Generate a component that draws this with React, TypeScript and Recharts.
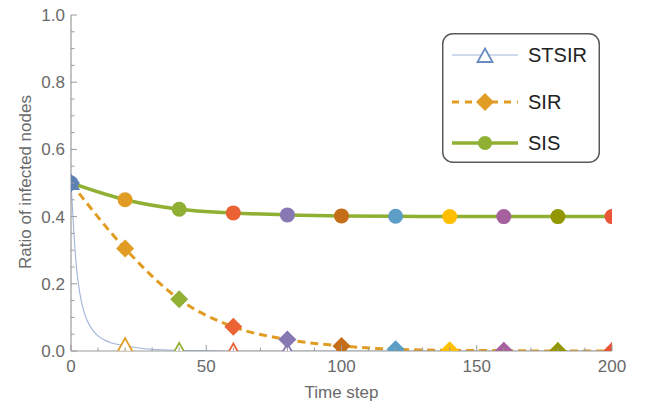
import React from 'react';
import { LineChart, Line, XAxis, YAxis, Legend } from 'recharts';

// Mathematica default indexed palette (marker colours cycle by point index)
const markerPalette = ['#5E81B5', '#E19C24', '#8FB032', '#EB6235', '#8778B3', '#C56E1A', '#5D9EC7', '#FFBF00', '#A5609D', '#929600', '#E95536'];

// Marker time steps
const markerSteps = [0, 20, 40, 60, 80, 100, 120, 140, 160, 180, 200];
// SIR series (dashed, diamonds)
const sirValues = [0.5, 0.305, 0.154, 0.072, 0.034, 0.015, 0.005, 0.002, 0.001, 0.0, 0.0];
// SIS series (solid, circles)
const sisValues = [0.5, 0.45, 0.422, 0.411, 0.405, 0.402, 0.401, 0.4, 0.4, 0.4, 0.4];
// STSIR series (thin curve)
const stsirSteps = [0, 1, 2, 3, 4, 5, 6, 8, 10, 12, 15, 20, 25, 30, 40, 50, 60, 80, 100, 120, 140, 160, 180, 200];
const stsirValues = [0.5, 0.36, 0.25, 0.185, 0.142, 0.112, 0.09, 0.062, 0.045, 0.034, 0.024, 0.016, 0.009, 0.005, 0.002, 0.001, 0, 0, 0, 0, 0, 0, 0, 0];

// Ticks
const xTicks = [0, 10, 20, 30, 40, 50, 60, 70, 80, 90, 100, 110, 120, 130, 140, 150, 160, 170, 180, 190, 200];
const yTicks = [0, 0.05, 0.1, 0.15, 0.2, 0.25, 0.3, 0.35, 0.4, 0.45, 0.5, 0.55, 0.6, 0.65, 0.7, 0.75, 0.8, 0.85, 0.9, 0.95, 1.0];

const seriesNames = ['STSIR', 'SIR', 'SIS'];

const sirData = markerSteps.map((t, i) => ({ t, v: sirValues[i] }));
const sisData = markerSteps.map((t, i) => ({ t, v: sisValues[i] }));
const stsirData = stsirSteps.map((t, i) => ({ t, v: stsirValues[i] }));

const FONT = '"Liberation Sans", Arial, Helvetica, sans-serif';
const TICK_TEXT = '#6a6a6a';
const FRAME_MAIN = '#9a9a9a';
const FRAME_LIGHT = '#b8b8b8';

const isMajorX = (v: number) => v % 50 === 0;
const isMajorY = (v: number) => Math.abs(v * 5 - Math.round(v * 5)) < 1e-6;

const BottomTick = (props: any) => {
  const { x, y, payload } = props;
  const v = payload.value;
  const major = isMajorX(v);
  return (
    <g>
      <line x1={x} x2={x} y1={y} y2={y - (major ? 6 : 3.5)} stroke={FRAME_MAIN} strokeWidth={1} />
      {major && (
        <text x={x} y={y + 21} textAnchor="middle" fill={TICK_TEXT} fontSize={17} fontFamily={FONT}>
          {v}
        </text>
      )}
    </g>
  );
};

const TopTick = (props: any) => {
  const { x, y, payload } = props;
  const major = isMajorX(payload.value);
  return <line x1={x} x2={x} y1={y} y2={y + (major ? 6 : 3.5)} stroke={FRAME_LIGHT} strokeWidth={1} />;
};

const LeftTick = (props: any) => {
  const { x, y, payload } = props;
  const v = payload.value;
  const major = isMajorY(v);
  return (
    <g>
      <line x1={x} x2={x + (major ? 6 : 3.5)} y1={y} y2={y} stroke={FRAME_MAIN} strokeWidth={1} />
      {major && (
        <text x={x - 6} y={y + 6} textAnchor="end" fill={TICK_TEXT} fontSize={17} fontFamily={FONT}>
          {v.toFixed(1)}
        </text>
      )}
    </g>
  );
};

const RightTick = (props: any) => {
  const { x, y, payload } = props;
  const major = isMajorY(payload.value);
  return <line x1={x} x2={x - (major ? 6 : 3.5)} y1={y} y2={y} stroke={FRAME_LIGHT} strokeWidth={1} />;
};

const colorFor = (t: number) => markerPalette[Math.round(t / 20) % markerPalette.length];

const Triangle = ({ cx, cy, color }: { cx: number; cy: number; color: string }) => (
  <polygon
    points={`${cx},${cy - 7.5} ${cx + 7.5},${cy + 6} ${cx - 7.5},${cy + 6}`}
    fill="#ffffff"
    stroke={color}
    strokeWidth={1.8}
    strokeLinejoin="miter"
  />
);

const Diamond = ({ cx, cy, color }: { cx: number; cy: number; color: string }) => (
  <polygon points={`${cx},${cy - 9} ${cx + 9},${cy} ${cx},${cy + 9} ${cx - 9},${cy}`} fill={color} stroke="none" />
);

const stsirDot = (props: any) => {
  const { cx, cy, payload, key } = props;
  if (payload.t % 20 !== 0 || cx == null || cy == null) return <g key={key ?? `s-${payload.t}`} />;
  return (
    <g key={key ?? `s-${payload.t}`}>
      <Triangle cx={cx} cy={cy} color={colorFor(payload.t)} />
    </g>
  );
};

const sirDot = (props: any) => {
  const { cx, cy, payload, key } = props;
  return (
    <g key={key ?? `d-${payload.t}`}>
      <Diamond cx={cx} cy={cy} color={colorFor(payload.t)} />
    </g>
  );
};

const sisDot = (props: any) => {
  const { cx, cy, payload, key } = props;
  return <circle key={key ?? `c-${payload.t}`} cx={cx} cy={cy} r={7.5} fill={colorFor(payload.t)} stroke="none" />;
};

const renderLegend = () => {
  const rows = [22, 69, 110];
  const lx1 = 10;
  const lx2 = 76;
  const mx = 43;
  const tx = 86;
  return (
    <svg width={158} height={130} style={{ display: 'block', overflow: 'visible' }}>
      <rect x={0.75} y={0.75} width={156.5} height={128.5} rx={10} ry={10} fill="#ffffff" stroke="#5a5a5a" strokeWidth={1.5} />
      <line x1={lx1} x2={lx2} y1={rows[0]} y2={rows[0]} stroke="#9FB4D8" strokeWidth={1} />
      <Triangle cx={mx} cy={rows[0] + 1} color="#6A8BC0" />
      <line x1={lx1} x2={lx2} y1={rows[1]} y2={rows[1]} stroke="#E19C24" strokeWidth={3} strokeDasharray="7 6" />
      <Diamond cx={mx} cy={rows[1]} color="#E19C24" />
      <line x1={lx1} x2={lx2} y1={rows[2]} y2={rows[2]} stroke="#8FB032" strokeWidth={3.5} />
      <circle cx={mx} cy={rows[2]} r={7} fill="#8FB032" />
      {seriesNames.map((n, i) => (
        <text key={n} x={tx} y={rows[i] + 7} fill="#222222" fontSize={20} fontFamily={FONT}>
          {n}
        </text>
      ))}
    </svg>
  );
};

export default function App() {
  return (
    <div style={{ position: 'absolute', left: 0, top: 0, width: 650, height: 410, background: '#ffffff' }}>
      <LineChart width={650} height={410} margin={{ top: 15, right: 38, bottom: 0, left: 0 }}>
        <XAxis
          dataKey="t"
          type="number"
          domain={[0, 200]}
          ticks={xTicks}
          allowDataOverflow
          height={59}
          tickSize={0}
          tickMargin={0}
          tickLine={false}
          tick={<BottomTick />}
          axisLine={{ stroke: FRAME_MAIN, strokeWidth: 1.2 }}
          interval={0}
          label={() => (
            <text x={341.5} y={398} textAnchor="middle" fill={TICK_TEXT} fontSize={17} fontFamily={FONT}>
              Time step
            </text>
          )}
        />
        <XAxis
          xAxisId="top"
          orientation="top"
          dataKey="t"
          type="number"
          domain={[0, 200]}
          ticks={xTicks}
          allowDataOverflow
          height={0}
          tickSize={0}
          tickMargin={0}
          tickLine={false}
          tick={<TopTick />}
          axisLine={{ stroke: FRAME_LIGHT, strokeWidth: 1.2 }}
          interval={0}
        />
        <YAxis
          type="number"
          domain={[0, 1]}
          ticks={yTicks}
          allowDataOverflow
          width={71}
          tickSize={0}
          tickMargin={0}
          tickLine={false}
          tick={<LeftTick />}
          axisLine={{ stroke: FRAME_MAIN, strokeWidth: 1.2 }}
          interval={0}
          label={() => (
            <text
              x={25}
              y={182}
              transform="rotate(-90, 25, 182)"
              textAnchor="middle"
              dominantBaseline="central"
              fill={TICK_TEXT}
              fontSize={17}
              fontFamily={FONT}
            >
              Ratio of infected nodes
            </text>
          )}
        />
        <YAxis
          yAxisId="right"
          orientation="right"
          type="number"
          domain={[0, 1]}
          ticks={yTicks}
          allowDataOverflow
          width={0}
          tickSize={0}
          tickMargin={0}
          tickLine={false}
          tick={<RightTick />}
          axisLine={{ stroke: FRAME_LIGHT, strokeWidth: 1.2 }}
          interval={0}
        />
        <Legend
          layout="vertical"
          align="center"
          verticalAlign="middle"
          content={renderLegend}
          wrapperStyle={{ left: 442, top: 33, width: 158, height: 130, margin: 0, padding: 0 }}
        />
        <Line
          name={seriesNames[0]}
          data={stsirData}
          dataKey="v"
          type="monotone"
          stroke="#9FB4D8"
          strokeWidth={1.1}
          dot={stsirDot}
          activeDot={false}
          isAnimationActive={false}
        />
        <Line
          name={seriesNames[1]}
          data={sirData}
          dataKey="v"
          type="monotone"
          stroke="#E19C24"
          strokeWidth={3}
          strokeDasharray="8 5"
          dot={sirDot}
          activeDot={false}
          isAnimationActive={false}
        />
        <Line
          name={seriesNames[2]}
          data={sisData}
          dataKey="v"
          type="monotone"
          stroke="#8FB032"
          strokeWidth={3.5}
          dot={sisDot}
          activeDot={false}
          isAnimationActive={false}
        />
      </LineChart>
    </div>
  );
}
